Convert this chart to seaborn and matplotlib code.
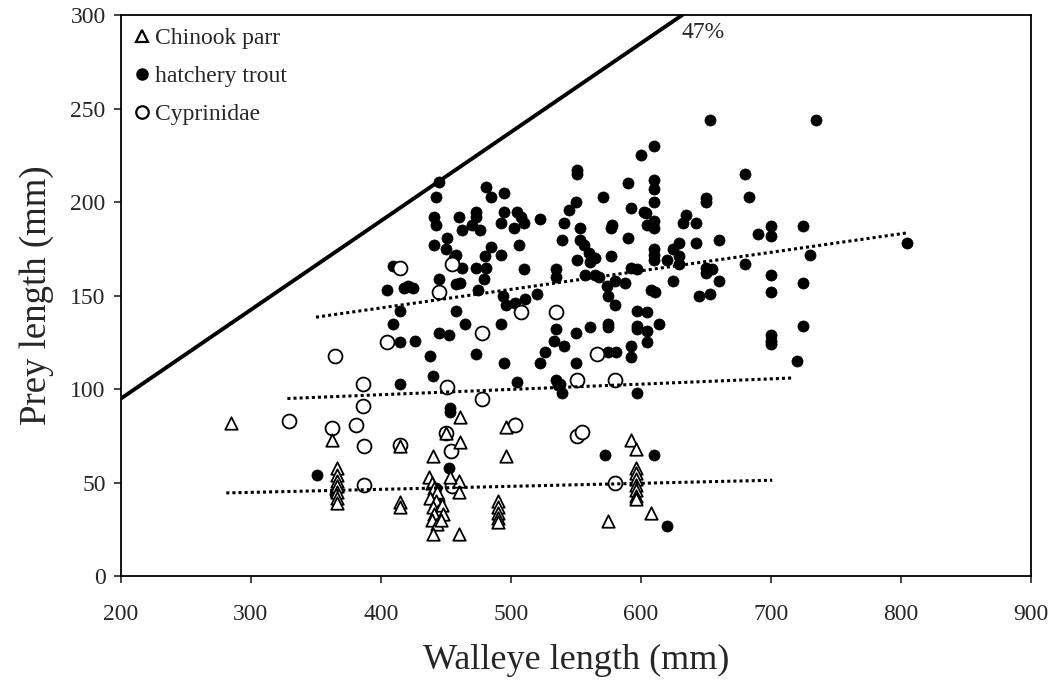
import matplotlib
matplotlib.use("Agg")
import matplotlib.pyplot as plt
import seaborn as sns
import pandas as pd
from matplotlib.lines import Line2D

# ---- data ----
chinook_x = [285, 362, 366, 366, 366, 366, 366, 366, 366, 415, 415, 415,
             440, 437, 439, 441, 443, 438, 442, 440, 444, 441, 439, 443, 440,
             447, 448, 446,
             450, 461, 461, 460, 460, 453, 460, 496, 496,
             490, 490, 490, 490, 490,
             592, 596, 596, 596, 596, 596, 596, 596, 596, 608, 575]
chinook_y = [82, 73, 58, 54, 51, 48, 45, 42, 39, 69.5, 39.6, 37,
             64, 53, 50, 47, 45, 42, 40, 37, 35, 33, 30, 28, 22.5,
             38, 33, 30,
             76.5, 85, 72, 51, 45, 53, 22.5, 80, 64,
             40, 37, 34, 31, 29,
             73, 68, 58, 55, 52, 49, 46, 43, 41, 34, 29.5]

trout_x = [351, 365, 415, 453, 453, 503, 452, 442, 445, 443, 505, 539, 536, 597, 572, 610, 620,
           445, 442, 481, 485, 495, 551, 551, 571, 550, 545,
           441, 442, 460, 473, 473, 470, 462, 476, 495, 505, 508, 510, 492, 502, 522, 541, 553, 539, 553, 556, 577, 578,
           451, 441, 450, 458, 456, 485, 492, 506, 480, 551, 560, 565, 561, 577,
           409, 415, 462, 473, 481, 510, 535, 535,
           405, 418, 421, 425, 445, 458, 461, 479, 445, 475, 494, 496, 503, 511, 520, 557, 565, 574, 580, 588, 575, 580,
           415, 458, 535, 409, 465, 492, 575, 575, 535, 561, 550, 445, 452, 426, 415, 533, 541, 526, 522, 575, 581,
           438, 473, 495, 550, 440, 535, 538,
           653, 735, 610, 600, 680, 683, 590, 610, 610, 610, 592, 602, 604, 650, 650, 635, 632, 642,
           605, 610, 610, 700, 700, 690, 725, 590, 660, 629, 625, 642, 610, 610, 610, 629, 629, 620, 730, 680,
           592, 597, 650, 655, 650, 700, 725, 568, 625, 660, 608, 611, 700, 645, 653, 597, 605, 614, 597, 597,
           605, 725, 700, 700, 700, 605, 592, 592, 720, 805]
trout_y = [54, 44, 103, 90, 88, 82, 58, 47, 40, 35, 104, 98, 102, 98, 65, 65, 27,
           211, 203, 208, 203, 205, 217, 215, 203, 200, 196,
           192, 188, 192, 195, 192, 188, 185, 185, 195, 195, 192, 189, 189, 186, 191, 189, 186, 180, 180, 177, 186, 188,
           181, 177, 175, 172, 170, 176, 172, 177, 171, 169, 173, 170, 168, 171,
           166, 165, 165, 165, 165, 164, 164, 160,
           153, 154, 155, 154, 159, 156, 157, 159, 152, 153, 150, 145, 146, 148, 151, 161, 161, 155, 158, 157, 150, 145,
           142, 142, 141, 135, 135, 135, 135, 133, 132, 133, 130, 130, 129, 126, 125, 126, 123, 120, 114, 120, 120,
           118, 119, 114, 114, 107, 105, 103,
           244, 244, 230, 225, 215, 203, 210, 212, 207, 200, 197, 195, 194, 202, 200, 193, 189, 189,
           188, 190, 186, 187, 182, 183, 187, 181, 180, 178, 175, 178, 175, 172, 169, 171, 167, 169, 172, 167,
           165, 164, 165, 164, 162, 161, 157, 160, 158, 158, 153, 152, 152, 150, 151, 142, 141, 135, 132, 134,
           131, 134, 129, 126, 124, 125, 123, 117, 115, 178]

cyprin_x = [365, 386, 386, 329, 362, 381, 387, 387, 415, 451, 478, 450, 454, 455, 503,
            551, 555, 580, 551, 580, 455, 415, 445, 508, 535, 478, 405, 566]
cyprin_y = [118, 103, 91, 83, 79, 81, 69.5, 49, 70, 101, 95, 76.5, 67, 48, 81,
            75, 77, 50, 105, 105, 167, 165, 152, 141, 141, 130, 125, 119]

# trend line endpoints (as drawn in the reference)
trend_trout_x = [350, 804]
trend_trout_y = [138.5, 183.5]
trend_cyprin_x = [328, 717]
trend_cyprin_y = [95, 106]
trend_chinook_x = [281, 701]
trend_chinook_y = [44.5, 51.3]

# 47% reference line
ref_label = "47%"
ref_ratio = 0.475
ref_x = [200, 632]

x_ticks = [200, 300, 400, 500, 600, 700, 800, 900]
y_ticks = [0, 50, 100, 150, 200, 250, 300]

# ---- plotting ----
sns.set_style("white")
plt.rcParams['font.family'] = ['Liberation Serif', 'DejaVu Serif']

fig = plt.figure(figsize=(10.52, 6.90), dpi=100)
ax = fig.add_axes([0.115, 0.165, 0.865, 0.813])

df_t = pd.DataFrame({"x": trout_x, "y": trout_y})
df_c = pd.DataFrame({"x": cyprin_x, "y": cyprin_y})
df_k = pd.DataFrame({"x": chinook_x, "y": chinook_y})

sns.scatterplot(data=df_t, x="x", y="y", ax=ax, marker="o", s=64,
                color="black", edgecolor="black", linewidth=0.5, zorder=3)
sns.scatterplot(data=df_c, x="x", y="y", ax=ax, marker="o", s=100,
                facecolor="white", edgecolor="black", linewidth=1.3, zorder=4)
sns.scatterplot(data=df_k, x="x", y="y", ax=ax, marker="^", s=80,
                facecolor="white", edgecolor="black", linewidth=1.3, zorder=5)

ax.plot(trend_trout_x, trend_trout_y, color="black", linestyle=(0, (1, 1)), linewidth=2.2, zorder=6)
ax.plot(trend_cyprin_x, trend_cyprin_y, color="black", linestyle=(0, (1, 1)), linewidth=2.2, zorder=6)
ax.plot(trend_chinook_x, trend_chinook_y, color="black", linestyle=(0, (1, 1)), linewidth=2.2, zorder=6)

ax.plot(ref_x, [ref_ratio * v for v in ref_x], color="black", linewidth=2.8, zorder=6)
ax.text(ref_x[1] - 1, 291, ref_label, fontsize=17, va="center", ha="left")

ax.set_xlim(200, 900)
ax.set_ylim(0, 300)
ax.set_xticks(x_ticks)
ax.set_yticks(y_ticks)
ax.tick_params(axis="x", direction="out", length=5, width=1.2, pad=15, labelsize=17,
               bottom=True, top=False)
ax.tick_params(axis="y", direction="out", length=5, width=1.2, pad=6, labelsize=17,
               left=True, right=False)
for sp in ax.spines.values():
    sp.set_color("black")
    sp.set_linewidth(1.3)

ax.set_xlabel("Walleye length (mm)", fontsize=26, labelpad=14)
ax.set_ylabel("Prey length (mm)", fontsize=26.5, labelpad=12)

handles = [
    Line2D([], [], marker="^", linestyle="none", markerfacecolor="white",
           markeredgecolor="black", markeredgewidth=1.6, markersize=9),
    Line2D([], [], marker="o", linestyle="none", markerfacecolor="black",
           markeredgecolor="black", markersize=8),
    Line2D([], [], marker="o", linestyle="none", markerfacecolor="white",
           markeredgecolor="black", markeredgewidth=1.6, markersize=9),
]
labels = ["Chinook parr", "hatchery trout", "Cyprinidae"]
ax.legend(handles, labels, loc="upper left", frameon=False, fontsize=17,
          handletextpad=0.05, labelspacing=0.7, borderaxespad=0.0,
          handlelength=1.0, bbox_to_anchor=(0.0, 0.995))

fig.savefig("out.png", dpi=100)
